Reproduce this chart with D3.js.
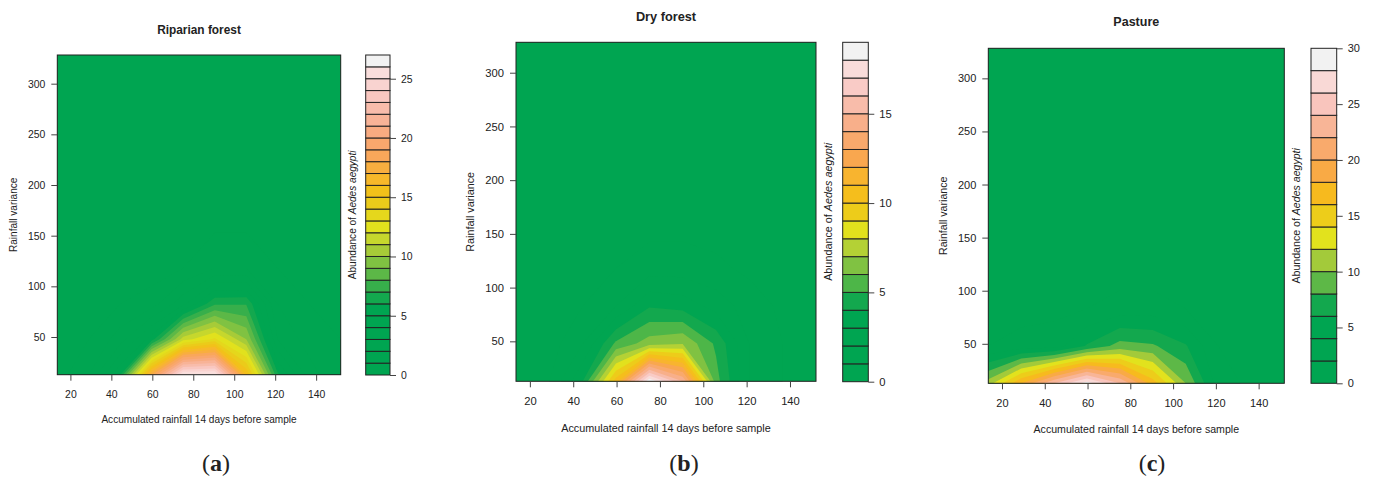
<!DOCTYPE html>
<html>
<head>
<meta charset="utf-8">
<script src="https://cdn.jsdelivr.net/npm/d3@7"></script>
<style>
  body { margin: 0; background: #fff; }
  text { font-family: "Liberation Sans", Arial, sans-serif; fill: #222; }
</style>
</head>
<body>
<svg id="chart" width="1375" height="479"></svg>
<script>
// grid nodes of the fitted surface (accumulated rainfall, rainfall variance)
const xGrid = [13.6, 29.0, 44.4, 59.7, 75.1, 90.5, 105.9, 121.2, 136.6, 152.0];
const yGrid = [12.8, 47.9, 82.9, 118.0, 153.0, 188.1, 223.1, 258.2, 293.2, 328.3];
const xTicks = [20, 40, 60, 80, 100, 120, 140];
const yTicks = [50, 100, 150, 200, 250, 300];

// predicted abundance, one row per yGrid value (bottom row first)
const zRiparian = [
  [0.5, 2.0, 6.0, 18.0, 26.2, 26.3, 16.0, 6.2, 2.5, 1.0],
  [0.5, 1.0, 2.5, 5.5, 11.5, 13.2, 10.0, 3.0, 1.5, 1.0],
  [0.3, 0.5, 1.0, 1.5, 3.7, 6.8, 6.9, 2.0, 1.0, 0.5],
  [0.2, 0.3, 0.5, 0.5, 1.0, 2.0, 2.0, 1.0, 0.5, 0.5],
  [0.2, 0.2, 0.3, 0.4, 0.6, 1.0, 1.0, 0.6, 0.4, 0.3],
  [0.1, 0.2, 0.2, 0.3, 0.4, 0.6, 0.6, 0.4, 0.3, 0.2],
  [0.1, 0.1, 0.2, 0.2, 0.3, 0.4, 0.4, 0.3, 0.2, 0.2],
  [0.1, 0.1, 0.1, 0.2, 0.2, 0.3, 0.3, 0.2, 0.2, 0.1],
  [0.1, 0.1, 0.1, 0.1, 0.2, 0.2, 0.2, 0.2, 0.1, 0.1],
  [0.1, 0.1, 0.1, 0.1, 0.1, 0.2, 0.2, 0.1, 0.1, 0.1]
];
const zDry = [
  [0.3, 1.0, 4.0, 10.5, 18.8, 15.0, 5.4, 2.0, 1.0, 0.5],
  [0.3, 0.5, 2.0, 5.2, 6.5, 6.9, 4.8, 2.0, 1.0, 0.5],
  [0.2, 0.3, 1.0, 2.0, 3.9, 3.6, 2.6, 1.5, 0.8, 0.5],
  [0.2, 0.3, 0.5, 1.0, 1.5, 1.5, 1.2, 0.8, 0.5, 0.3],
  [0.1, 0.2, 0.3, 0.5, 0.8, 0.8, 0.7, 0.5, 0.3, 0.2],
  [0.1, 0.1, 0.2, 0.3, 0.5, 0.5, 0.4, 0.3, 0.2, 0.2],
  [0.1, 0.1, 0.2, 0.2, 0.3, 0.3, 0.3, 0.2, 0.2, 0.1],
  [0.1, 0.1, 0.1, 0.2, 0.2, 0.2, 0.2, 0.2, 0.1, 0.1],
  [0.1, 0.1, 0.1, 0.1, 0.2, 0.2, 0.2, 0.1, 0.1, 0.1],
  [0.1, 0.1, 0.1, 0.1, 0.1, 0.1, 0.1, 0.1, 0.1, 0.1]
];
const zPasture = [
  [11.0, 18.0, 24.0, 29.0, 24.0, 17.0, 10.0, 3.0, 1.5, 1.0],
  [2.0, 3.0, 3.0, 6.2, 8.8, 8.3, 6.2, 2.0, 1.0, 0.5],
  [1.0, 1.0, 1.5, 2.0, 3.0, 3.0, 2.0, 1.0, 0.5, 0.5],
  [0.5, 0.5, 0.5, 1.0, 1.0, 1.0, 1.0, 0.5, 0.5, 0.3],
  [0.3, 0.3, 0.4, 0.5, 0.6, 0.6, 0.5, 0.4, 0.3, 0.3],
  [0.2, 0.2, 0.3, 0.3, 0.4, 0.4, 0.3, 0.3, 0.2, 0.2],
  [0.2, 0.2, 0.2, 0.2, 0.3, 0.3, 0.2, 0.2, 0.2, 0.1],
  [0.1, 0.1, 0.2, 0.2, 0.2, 0.2, 0.2, 0.2, 0.1, 0.1],
  [0.1, 0.1, 0.1, 0.1, 0.2, 0.2, 0.1, 0.1, 0.1, 0.1],
  [0.1, 0.1, 0.1, 0.1, 0.1, 0.1, 0.1, 0.1, 0.1, 0.1]
];

// contour levels and legend ticks
const levelsRiparian = d3.range(0, 28, 1);
const levelsDry = d3.range(0, 20, 1);
const levelsPasture = d3.range(0, 32, 2);
const cbTicksRiparian = [0, 5, 10, 15, 20, 25];
const cbTicksDry = [0, 5, 10, 15];
const cbTicksPasture = [0, 5, 10, 15, 20, 25, 30];

// band colours, lowest band first
const G = "#00a551";
const colorsRiparian = [G, G, G, G, G, G, "#13a84e", "#37af4b", "#5cb847", "#80c242", "#a7cb38",
  "#c6d72d", "#e1e11d", "#e5d71c", "#ebcb1a", "#f2c11a", "#f7b82a", "#f8ae3f", "#f9a75a",
  "#f9a76d", "#f8ab81", "#f8b397", "#f8bcab", "#f9c7c0", "#f9d3d0", "#f9dedc", "#f2f2f2"];
const colorsDry = [G, G, G, G, "#13a84e", "#4db648", "#80c242", "#b4d135", "#e2e11d", "#edcc1a",
  "#f5be1c", "#f8b42f", "#f9a74f", "#f9a96c", "#f8af8a", "#f8bcaa", "#f9cbc6", "#f9dcda", "#f2f2f2"];
const colorsPasture = [G, G, G, "#13a84e", "#5db847", "#a3ca3a", "#e2e21d", "#edcd1a", "#f7ba1e",
  "#f9aa45", "#f9aa6c", "#f8b597", "#f9c5bd", "#f9d9d6", "#f2f2f2"];

const xDomain = [13.6, 152.0];
const yDomain = [12.8, 328.3];

const svg = d3.select("#chart");

const panels = [
  { id: "a", title: "Riparian forest", z: zRiparian, levels: levelsRiparian, colors: colorsRiparian,
    cbTicks: cbTicksRiparian, fs: 0.95,
    plot: [57.3, 340.7, 55, 374.7], cb: [365.7, 390, 55, 375],
    titleY: 30, xlabY: 419, ylabX: 13.3, cblabX: 351.7, letterX: 216 },
  { id: "b", title: "Dry forest", z: zDry, levels: levelsDry, colors: colorsDry,
    cbTicks: cbTicksDry, fs: 1.02,
    plot: [516, 816, 42.3, 381.3], cb: [842.7, 868.3, 42.3, 381.7],
    titleY: 16, xlabY: 428, ylabX: 470, cblabX: 827.7, letterX: 684 },
  { id: "c", title: "Pasture", z: zPasture, levels: levelsPasture, colors: colorsPasture,
    cbTicks: cbTicksPasture, fs: 1.0,
    plot: [988.3, 1284.3, 48.3, 383.3], cb: [1311, 1336.7, 48.3, 383.3],
    titleY: 22, xlabY: 429, ylabX: 943, cblabX: 1296, letterX: 1152 }
];

function drawPanel(p) {
  const [px0, px1, py0, py1] = p.plot;
  const g = svg.append("g");
  const x = d3.scaleLinear().domain(xDomain).range([px0, px1]);
  const y = d3.scaleLinear().domain(yDomain).range([py1, py0]);

  // grid index -> data value (d3.contours puts sample i at i + 0.5)
  const gx = d3.scaleLinear().domain(xGrid.map((d, i) => i + 0.5)).range(xGrid);
  const gy = d3.scaleLinear().domain(yGrid.map((d, i) => i + 0.5)).range(yGrid);
  const bands = d3.contours()
    .size([xGrid.length, yGrid.length])
    .thresholds(p.levels.slice(0, -1))(p.z.flat());
  const proj = d3.geoTransform({
    point(cx, cy) { this.stream.point(x(gx(cx)), y(gy(cy))); }
  });
  const path = d3.geoPath(proj);

  svg.append("clipPath").attr("id", "clip-" + p.id)
    .append("rect").attr("x", px0).attr("y", py0).attr("width", px1 - px0).attr("height", py1 - py0);

  const fill = g.append("g").attr("clip-path", `url(#clip-${p.id})`);
  fill.append("rect").attr("x", px0).attr("y", py0).attr("width", px1 - px0).attr("height", py1 - py0)
    .attr("fill", p.colors[0]);
  fill.selectAll("path").data(bands).join("path")
    .attr("d", path)
    .attr("fill", (d, i) => p.colors[i]);

  g.append("rect").attr("x", px0).attr("y", py0).attr("width", px1 - px0).attr("height", py1 - py0)
    .attr("fill", "none").attr("stroke", "#222").attr("stroke-width", 1);

  const tickFs = 11 * p.fs;
  const xAxis = g.append("g").attr("transform", `translate(0,${py1})`)
    .call(d3.axisBottom(x).tickValues(xTicks).tickSize(6).tickPadding(9.5).tickFormat(d3.format("d")));
  const yAxis = g.append("g").attr("transform", `translate(${px0},0)`)
    .call(d3.axisLeft(y).tickValues(yTicks).tickSize(6).tickPadding(6).tickFormat(d3.format("d")));
  [xAxis, yAxis].forEach(a => {
    a.select(".domain").remove();
    a.selectAll("line").attr("stroke", "#444");
    a.selectAll("text").attr("font-size", tickFs).attr("fill", "#222")
      .style("font-family", '"Liberation Sans", Arial, sans-serif');
  });

  // colour key
  const [cx0, cx1, cy0, cy1] = p.cb;
  const lv = p.levels;
  const cy = d3.scaleLinear().domain([lv[0], lv[lv.length - 1]]).range([cy1, cy0]);
  g.selectAll("rect.key").data(p.colors).join("rect").attr("class", "key")
    .attr("x", cx0).attr("width", cx1 - cx0)
    .attr("y", (d, i) => cy(lv[i + 1]))
    .attr("height", (d, i) => cy(lv[i]) - cy(lv[i + 1]))
    .attr("fill", d => d).attr("stroke", "#222").attr("stroke-width", 1);
  const cAxis = g.append("g").attr("transform", `translate(${cx1},0)`)
    .call(d3.axisRight(cy).tickValues(p.cbTicks).tickSize(6).tickPadding(5).tickFormat(d3.format("d")));
  cAxis.select(".domain").remove();
  cAxis.selectAll("line").attr("stroke", "#444");
  cAxis.selectAll("text").attr("font-size", tickFs).attr("fill", "#222")
    .style("font-family", '"Liberation Sans", Arial, sans-serif');

  const midX = (px0 + px1) / 2, midY = (py0 + py1) / 2;
  g.append("text").attr("x", midX).attr("y", p.titleY)
    .attr("text-anchor", "middle").attr("dominant-baseline", "central")
    .attr("font-weight", "bold").attr("font-size", 12.5 * p.fs).text(p.title);
  g.append("text").attr("x", midX).attr("y", p.xlabY)
    .attr("text-anchor", "middle").attr("dominant-baseline", "central")
    .attr("font-size", 10.6 * p.fs).text("Accumulated rainfall 14 days before sample");
  g.append("text").attr("transform", `translate(${p.ylabX},${midY}) rotate(-90)`)
    .attr("text-anchor", "middle").attr("dominant-baseline", "central")
    .attr("font-size", 10.6 * p.fs).text("Rainfall variance");
  const kl = g.append("text").attr("transform", `translate(${p.cblabX},${midY}) rotate(-90)`)
    .attr("text-anchor", "middle").attr("dominant-baseline", "central")
    .attr("font-size", 10.6 * p.fs);
  kl.append("tspan").text("Abundance of ");
  kl.append("tspan").attr("font-style", "italic").text("Aedes aegypti");

  const lt = g.append("text").attr("x", p.letterX).attr("y", 463)
    .attr("text-anchor", "middle").attr("dominant-baseline", "central")
    .attr("font-size", 24).style("font-family", '"Liberation Serif", "DejaVu Serif", serif');
  lt.append("tspan").text("(");
  lt.append("tspan").attr("font-weight", "bold").text(p.id);
  lt.append("tspan").text(")");
}

panels.forEach(drawPanel);
</script>
</body>
</html>
